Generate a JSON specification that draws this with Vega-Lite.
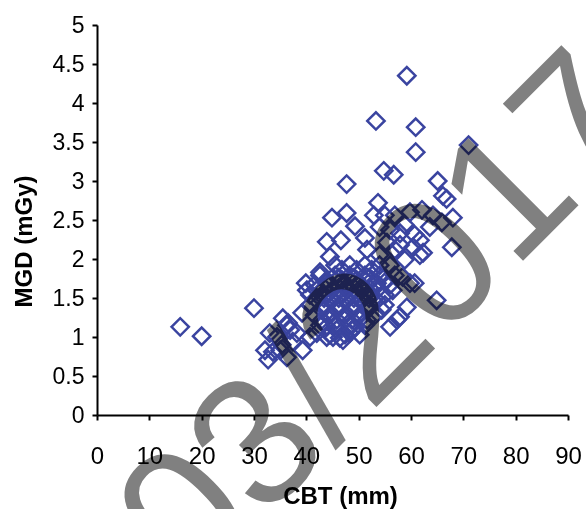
{
  "$schema": "https://vega.github.io/schema/vega-lite/v6.json",
  "width": 471,
  "height": 390,
  "autosize": {"type": "none"},
  "padding": {"left": 97, "top": 25, "right": 18, "bottom": 94},
  "background": "white",
  "config": {"view": {"stroke": null}, "font": "Liberation Sans"},
  "datasets": {
    "points": [
      {"CBT": 15.9, "MGD": 1.13}, {"CBT": 20.0, "MGD": 1.01}, {"CBT": 30.0, "MGD": 1.37},
      {"CBT": 59.2, "MGD": 4.35}, {"CBT": 53.3, "MGD": 3.77}, {"CBT": 60.9, "MGD": 3.69},
      {"CBT": 60.9, "MGD": 3.37}, {"CBT": 71.0, "MGD": 3.46}, {"CBT": 54.8, "MGD": 3.13},
      {"CBT": 56.7, "MGD": 3.08}, {"CBT": 47.7, "MGD": 2.96}, {"CBT": 65.1, "MGD": 3.0},
      {"CBT": 66.1, "MGD": 2.81}, {"CBT": 66.8, "MGD": 2.77}, {"CBT": 53.7, "MGD": 2.72},
      {"CBT": 44.9, "MGD": 2.53}, {"CBT": 47.7, "MGD": 2.59}, {"CBT": 49.3, "MGD": 2.42},
      {"CBT": 52.9, "MGD": 2.56}, {"CBT": 59.8, "MGD": 2.6}, {"CBT": 62.1, "MGD": 2.63},
      {"CBT": 64.2, "MGD": 2.56}, {"CBT": 68.0, "MGD": 2.53}, {"CBT": 65.9, "MGD": 2.47},
      {"CBT": 63.6, "MGD": 2.41}, {"CBT": 67.8, "MGD": 2.15}, {"CBT": 64.9, "MGD": 1.47},
      {"CBT": 43.9, "MGD": 2.22}, {"CBT": 46.6, "MGD": 2.24}, {"CBT": 44.5, "MGD": 2.03},
      {"CBT": 42.6, "MGD": 1.83}, {"CBT": 39.9, "MGD": 1.69}, {"CBT": 36.5, "MGD": 1.18},
      {"CBT": 39.2, "MGD": 1.31}, {"CBT": 38.2, "MGD": 1.05}, {"CBT": 39.3, "MGD": 0.83},
      {"CBT": 34.4, "MGD": 1.0}, {"CBT": 32.7, "MGD": 0.71}, {"CBT": 36.3, "MGD": 0.74},
      {"CBT": 33.0, "MGD": 1.05}, {"CBT": 35.0, "MGD": 0.83}, {"CBT": 36.3, "MGD": 1.15},
      {"CBT": 37.4, "MGD": 0.94}, {"CBT": 33.6, "MGD": 0.81}, {"CBT": 35.3, "MGD": 0.9},
      {"CBT": 42.0, "MGD": 1.05}, {"CBT": 45.1, "MGD": 1.0}, {"CBT": 47.0, "MGD": 0.96},
      {"CBT": 35.5, "MGD": 1.24}, {"CBT": 36.9, "MGD": 1.09}, {"CBT": 40.7, "MGD": 1.0},
      {"CBT": 43.9, "MGD": 1.0}, {"CBT": 48.3, "MGD": 1.05}, {"CBT": 57.3, "MGD": 1.22},
      {"CBT": 59.2, "MGD": 1.38}, {"CBT": 62.3, "MGD": 2.08}, {"CBT": 60.4, "MGD": 2.15},
      {"CBT": 59.8, "MGD": 1.69}, {"CBT": 51.6, "MGD": 2.12}, {"CBT": 55.4, "MGD": 2.21},
      {"CBT": 54.0, "MGD": 2.41}, {"CBT": 57.9, "MGD": 2.33}, {"CBT": 32.1, "MGD": 0.83},
      {"CBT": 43.9, "MGD": 1.13}, {"CBT": 46.4, "MGD": 0.99}, {"CBT": 49.3, "MGD": 1.12},
      {"CBT": 56.0, "MGD": 1.13}, {"CBT": 57.9, "MGD": 1.26}, {"CBT": 60.7, "MGD": 1.69},
      {"CBT": 61.7, "MGD": 2.05}, {"CBT": 53.5, "MGD": 1.69}, {"CBT": 40.1, "MGD": 1.6},
      {"CBT": 56.5, "MGD": 1.6}, {"CBT": 58.4, "MGD": 1.77},
      {"CBT": 45.5, "MGD": 1.92}, {"CBT": 48.3, "MGD": 1.92}, {"CBT": 51.2, "MGD": 1.92}, {"CBT": 54.0, "MGD": 1.92},
      {"CBT": 42.6, "MGD": 1.79}, {"CBT": 45.5, "MGD": 1.79}, {"CBT": 48.3, "MGD": 1.79}, {"CBT": 51.2, "MGD": 1.79}, {"CBT": 54.0, "MGD": 1.79}, {"CBT": 56.9, "MGD": 1.79},
      {"CBT": 41.6, "MGD": 1.67}, {"CBT": 44.5, "MGD": 1.67}, {"CBT": 47.4, "MGD": 1.67}, {"CBT": 50.2, "MGD": 1.67}, {"CBT": 53.1, "MGD": 1.67}, {"CBT": 56.0, "MGD": 1.67},
      {"CBT": 40.7, "MGD": 1.54}, {"CBT": 43.5, "MGD": 1.54}, {"CBT": 46.4, "MGD": 1.54}, {"CBT": 49.3, "MGD": 1.54}, {"CBT": 52.1, "MGD": 1.54}, {"CBT": 55.0, "MGD": 1.54},
      {"CBT": 40.7, "MGD": 1.41}, {"CBT": 43.5, "MGD": 1.41}, {"CBT": 46.4, "MGD": 1.41}, {"CBT": 49.3, "MGD": 1.41}, {"CBT": 52.1, "MGD": 1.41}, {"CBT": 55.0, "MGD": 1.41},
      {"CBT": 41.6, "MGD": 1.28}, {"CBT": 44.5, "MGD": 1.28}, {"CBT": 47.4, "MGD": 1.28}, {"CBT": 50.2, "MGD": 1.28}, {"CBT": 53.1, "MGD": 1.28},
      {"CBT": 42.6, "MGD": 1.15}, {"CBT": 45.5, "MGD": 1.15}, {"CBT": 48.3, "MGD": 1.15}, {"CBT": 51.2, "MGD": 1.15},
      {"CBT": 44.5, "MGD": 1.03}, {"CBT": 47.4, "MGD": 1.03}, {"CBT": 50.2, "MGD": 1.03},
      {"CBT": 54.0, "MGD": 2.05}, {"CBT": 56.9, "MGD": 2.12}, {"CBT": 56.0, "MGD": 1.92}, {"CBT": 58.8, "MGD": 1.99},
      {"CBT": 57.9, "MGD": 2.18}, {"CBT": 60.7, "MGD": 2.31}, {"CBT": 58.8, "MGD": 2.44}, {"CBT": 56.0, "MGD": 2.37},
      {"CBT": 61.7, "MGD": 2.24}, {"CBT": 56.9, "MGD": 2.56}, {"CBT": 51.2, "MGD": 2.27}, {"CBT": 55.0, "MGD": 2.56},
      {"CBT": 46.8, "MGD": 1.86}, {"CBT": 49.6, "MGD": 1.86}, {"CBT": 52.5, "MGD": 1.86},
      {"CBT": 43.9, "MGD": 1.73}, {"CBT": 46.8, "MGD": 1.73}, {"CBT": 49.6, "MGD": 1.73}, {"CBT": 52.5, "MGD": 1.73}, {"CBT": 55.4, "MGD": 1.73},
      {"CBT": 42.0, "MGD": 1.6}, {"CBT": 44.9, "MGD": 1.6}, {"CBT": 47.7, "MGD": 1.6}, {"CBT": 50.6, "MGD": 1.6}, {"CBT": 53.5, "MGD": 1.6},
      {"CBT": 42.0, "MGD": 1.47}, {"CBT": 44.9, "MGD": 1.47}, {"CBT": 47.7, "MGD": 1.47}, {"CBT": 50.6, "MGD": 1.47}, {"CBT": 53.5, "MGD": 1.47},
      {"CBT": 43.0, "MGD": 1.35}, {"CBT": 45.8, "MGD": 1.35}, {"CBT": 48.7, "MGD": 1.35}, {"CBT": 51.6, "MGD": 1.35}, {"CBT": 54.4, "MGD": 1.35},
      {"CBT": 43.0, "MGD": 1.22}, {"CBT": 45.8, "MGD": 1.22}, {"CBT": 48.7, "MGD": 1.22}, {"CBT": 51.6, "MGD": 1.22},
      {"CBT": 45.8, "MGD": 1.09}, {"CBT": 48.7, "MGD": 1.09},
      {"CBT": 43.4, "MGD": 1.63}, {"CBT": 46.2, "MGD": 1.63}, {"CBT": 49.1, "MGD": 1.63}, {"CBT": 52.0, "MGD": 1.63},
      {"CBT": 43.4, "MGD": 1.5}, {"CBT": 46.2, "MGD": 1.5}, {"CBT": 49.1, "MGD": 1.5}, {"CBT": 52.0, "MGD": 1.5},
      {"CBT": 43.4, "MGD": 1.37}, {"CBT": 46.2, "MGD": 1.37}, {"CBT": 49.1, "MGD": 1.37}, {"CBT": 52.0, "MGD": 1.37},
      {"CBT": 44.7, "MGD": 1.24}, {"CBT": 47.6, "MGD": 1.24}, {"CBT": 50.4, "MGD": 1.24},
      {"CBT": 46.2, "MGD": 1.76}, {"CBT": 49.1, "MGD": 1.76}, {"CBT": 52.0, "MGD": 1.76}
    ],
    "stamp": [{"CBT": 55.0, "MGD": 1.205, "label": "03/2017"}]
  },
  "encoding": {
    "x": {
      "field": "CBT", "type": "quantitative",
      "scale": {"domain": [0, 90], "nice": false, "zero": false},
      "axis": {
        "values": [0, 10, 20, 30, 40, 50, 60, 70, 80, 90],
        "grid": false, "domainColor": "black", "domainWidth": 2,
        "tickColor": "black", "tickWidth": 2, "tickSize": 5,
        "labelFont": "Liberation Sans", "labelFontSize": 24, "labelColor": "black",
        "labelPadding": 24, "labelFlush": false, "labelOverlap": false,
        "title": "CBT (mm)", "titleFont": "Liberation Sans", "titleFontSize": 24,
        "titleFontWeight": "bold", "titleColor": "black",
        "titleX": 243, "titleY": 88, "titleBaseline": "alphabetic"
      }
    },
    "y": {
      "field": "MGD", "type": "quantitative",
      "scale": {"domain": [0, 5], "nice": false},
      "axis": {
        "values": [0, 0.5, 1, 1.5, 2, 2.5, 3, 3.5, 4, 4.5, 5],
        "labelExpr": "format(datum.value, '~g')",
        "grid": false, "domainColor": "black", "domainWidth": 2,
        "tickColor": "black", "tickWidth": 2, "tickSize": 5,
        "labelFont": "Liberation Sans", "labelFontSize": 23, "labelColor": "black",
        "labelPadding": 8, "labelFlush": false, "labelOverlap": false,
        "title": "MGD (mGy)", "titleFont": "Liberation Sans", "titleFontSize": 24,
        "titleFontWeight": "bold", "titleColor": "black",
        "titleX": -66, "titleY": 216, "titleBaseline": "alphabetic"
      }
    }
  },
  "layer": [
    {
      "data": {"name": "points"},
      "mark": {"type": "point", "shape": "diamond", "filled": false, "size": 300, "strokeWidth": 2.5, "color": "#3a44a0", "opacity": 1}
    },
    {
      "data": {"name": "stamp"},
      "mark": {"type": "text", "font": "Liberation Sans", "fontSize": 182, "angle": -45, "align": "center", "baseline": "middle", "color": "#808080", "blend": "multiply"},
      "encoding": {
        "text": {"field": "label"}
      }
    }
  ]
}
